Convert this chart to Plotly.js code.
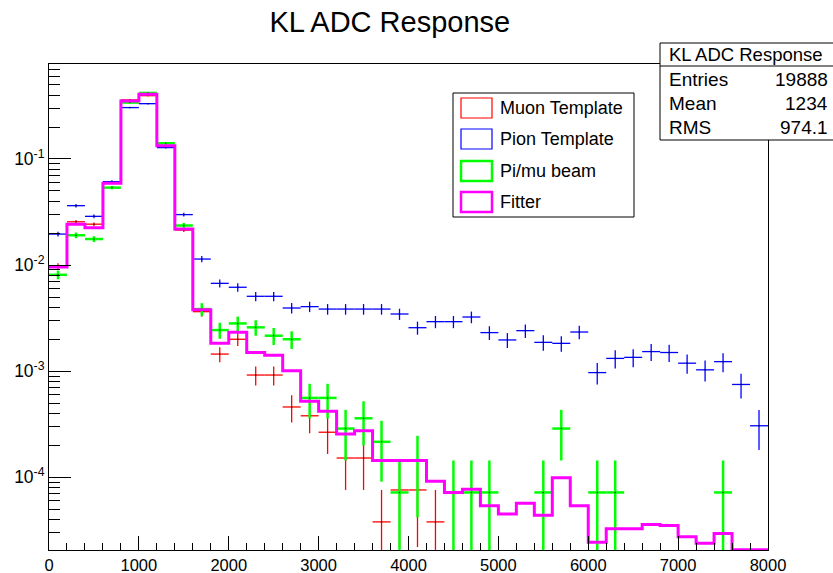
<!DOCTYPE html>
<html><head><meta charset="utf-8">
<script src="https://cdn.plot.ly/plotly-3.0.1.min.js"></script>
<style>html,body{margin:0;padding:0;background:#fff}#chart{width:833px;height:573px}</style>
</head><body><div id="chart"></div>
<script>
// ---- data (normalised ADC spectra, 40 bins of 200 ADC counts) ----
const binCenters = [100,300,500,700,900,1100,1300,1500,1700,1900,2100,2300,2500,2700,2900,3100,3300,3500,3700,3900,
  4100,4300,4500,4700,4900,5100,5300,5500,5700,5900,6100,6300,6500,6700,6900,7100,7300,7500,7700,7900];
const binEdges = [0,200,400,600,800,1000,1200,1400,1600,1800,2000,2200,2400,2600,2800,3000,3200,3400,3600,3800,
  4000,4200,4400,4600,4800,5000,5200,5400,5600,5800,6000,6200,6400,6600,6800,7000,7200,7400,7600,7800,8000];
const halfBin = 100;

const muonY = [0.0098,0.0256,0.0243,0.060,0.36,0.395,0.133,0.0214,0.00364,0.00145,0.0020,0.00092,0.00092,0.00046,0.00038,0.000266,0.000152,0.000152,0.000038,0.000076,
  0.000076,0.000038,null,null,null,null,null,null,null,null,null,null,null,null,null,null,null,null,null,null];
const muonErr = [0.00061,0.000987,0.000961,0.00151,0.0037,0.00388,0.00225,0.000902,0.000372,0.000235,0.000276,0.000187,0.000187,0.000132,0.00012,0.0001,0.000076,0.000076,0.000038,0.000054,
  0.000054,0.000038,null,null,null,null,null,null,null,null,null,null,null,null,null,null,null,null,null,null];

const pionY = [0.0196,0.0363,0.0288,0.0611,0.305,0.332,0.128,0.0299,0.0114,0.00673,0.00618,0.00508,0.00508,0.00394,0.00406,0.00385,0.00385,0.00385,0.00385,0.00346,
  0.00257,0.00293,0.00293,0.00324,0.00231,0.00197,0.00241,0.00187,0.00183,0.00234,0.00097,0.00132,0.00135,0.00153,0.0015,0.00119,0.00103,0.00123,0.00075,0.000306];
const pionErr = [0.0010,0.00136,0.00121,0.00177,0.00394,0.00412,0.00256,0.00124,0.00076,0.000586,0.000562,0.000509,0.000509,0.000449,0.000455,0.000443,0.000443,0.000443,0.000443,0.00042,
  0.000362,0.000387,0.000387,0.000407,0.000343,0.000317,0.000351,0.000309,0.000305,0.000345,0.000222,0.000259,0.000262,0.000279,0.000277,0.000246,0.000229,0.00025,0.000196,0.000125];

const beamY = [0.0081,0.0191,0.0176,0.0537,0.34,0.419,0.1406,0.0236,0.00385,0.00244,0.00282,0.00259,0.00216,0.0020,0.00056,0.00056,0.000288,0.00036,0.000216,0.000072,
  0.000144,null,0.000072,0.000072,0.000072,null,null,0.000072,0.000288,null,0.000072,0.000072,null,null,null,null,null,0.000072,null,null];
const beamErr = [0.000763,0.00117,0.00113,0.00197,0.00495,0.00549,0.00318,0.0013,0.000526,0.000419,0.00045,0.000432,0.000394,0.000379,0.000201,0.000201,0.000144,0.000161,0.000125,0.000072,
  0.000102,null,0.000072,0.000072,0.000072,null,null,0.000072,0.000144,null,0.000072,0.000072,null,null,null,null,null,0.000072,null,null];

const fitY = [0.0096,0.0243,0.0225,0.059,0.352,0.407,0.133,0.0219,0.0038,0.00183,0.00233,0.0015,0.00141,0.00101,0.00052,0.00042,0.000256,0.000275,0.000144,0.000144,
  0.000144,0.000092,0.000072,0.000077,0.000054,0.000045,0.000057,0.000044,0.000099,0.000054,0.0000245,0.0000327,0.0000327,0.000036,0.0000352,0.0000275,0.0000239,0.0000296,0.0000208,0.0000208];

const seriesNames = ['Muon Template','Pion Template','Pi/mu beam','Fitter'];
const seriesColors = ['#ff0000','#0000ff','#00ff00','#ff00ff'];
const seriesWidths = [1.3,1.3,2.5,3];

const xTickVals = [0,1000,2000,3000,4000,5000,6000,7000,8000];
const xTickText = ['0','1000','2000','3000','4000','5000','6000','7000','8000'];
const yTickVals = [1e-4,1e-3,1e-2,1e-1];
const yTickText = ['10<sup>-4</sup>','10<sup>-3</sup>','10<sup>-2</sup>','10<sup>-1</sup>'];
const yDecades = [1e-5,1e-4,1e-3,1e-2,1e-1];
const yMinorMult = [2,3,4,5,6,7,8,9];

const statsTitle = 'KL ADC Response';
const statsLabels = ['Entries','Mean','RMS'];
const statsValues = ['19888','1234','974.1'];
const chartTitle = 'KL ADC Response';

// ---- layout helpers (pixel -> paper) ----
const W = 833, H = 573, M = {l:49, r:65, t:64, b:23, pad:0};
const pw = W - M.l - M.r, ph = H - M.t - M.b;
const px = x => (x - M.l) / pw;
const py = y => (H - M.b - y) / ph;
const FONT = 'Liberation Sans, Arial, Helvetica, sans-serif';

const yMinor = [];
yDecades.forEach(d => yMinorMult.forEach(m => yMinor.push(d * m)));

function errTrace(y, err, i) {
  return {
    type: 'scatter', mode: 'markers', x: binCenters, y: y,
    marker: {size: 1.5, color: '#000', opacity: 0.8},
    error_x: {type: 'constant', value: halfBin, width: 0, thickness: seriesWidths[i], color: seriesColors[i]},
    error_y: {type: 'data', array: err, width: 0, thickness: seriesWidths[i], color: seriesColors[i]},
    showlegend: false, hoverinfo: 'skip', cliponaxis: true
  };
}
const traces = [
  errTrace(muonY, muonErr, 0),
  errTrace(pionY, pionErr, 1),
  errTrace(beamY, beamErr, 2),
  {type: 'scatter', mode: 'lines', x: binEdges, y: fitY.concat([fitY[fitY.length - 1]]),
   line: {shape: 'hv', color: seriesColors[3], width: seriesWidths[3]}, showlegend: false, hoverinfo: 'skip'}
];

const shapes = [], annotations = [];
// legend box
shapes.push({type: 'rect', xref: 'paper', yref: 'paper', x0: px(453), x1: px(634), y0: py(217), y1: py(93),
  line: {color: '#000', width: 1}, fillcolor: '#fff', layer: 'above'});
const legRows = [108, 139, 171, 202];
seriesNames.forEach((n, i) => {
  const yc = legRows[i];
  shapes.push({type: 'rect', xref: 'paper', yref: 'paper', x0: px(461), x1: px(492), y0: py(yc + 10), y1: py(yc - 10),
    line: {color: seriesColors[i], width: i < 2 ? 1.2 : 2.5}, fillcolor: 'rgba(0,0,0,0)', layer: 'above'});
  annotations.push({xref: 'paper', yref: 'paper', x: px(498), y: py(yc), xanchor: 'left', yanchor: 'middle',
    text: n, showarrow: false, font: {family: FONT, size: 18, color: '#000'}});
});
// stats box
shapes.push({type: 'rect', xref: 'paper', yref: 'paper', x0: px(660), x1: px(836), y0: py(140), y1: py(43),
  line: {color: '#000', width: 1}, fillcolor: '#fff', layer: 'above'});
shapes.push({type: 'line', xref: 'paper', yref: 'paper', x0: px(660), x1: px(836), y0: py(66), y1: py(66),
  line: {color: '#000', width: 1}, layer: 'above'});
annotations.push({xref: 'paper', yref: 'paper', x: px(746), y: py(54.5), xanchor: 'center', yanchor: 'middle',
  text: statsTitle, showarrow: false, font: {family: FONT, size: 18.5, color: '#000'}});
const statRows = [80, 103, 127];
statsLabels.forEach((l, i) => {
  annotations.push({xref: 'paper', yref: 'paper', x: px(667), y: py(statRows[i]), xanchor: 'left', yanchor: 'middle',
    text: l, showarrow: false, font: {family: FONT, size: 19, color: '#000'}});
  annotations.push({xref: 'paper', yref: 'paper', x: px(830), y: py(statRows[i]), xanchor: 'right', yanchor: 'middle',
    text: statsValues[i], showarrow: false, font: {family: FONT, size: 19, color: '#000'}});
});

const layout = {
  width: W, height: H, margin: M,
  paper_bgcolor: '#fff', plot_bgcolor: '#fff',
  title: {text: chartTitle, x: 0.468, xref: 'container', xanchor: 'center', y: 1 - 22 / H, yref: 'container', yanchor: 'middle',
    font: {family: FONT, size: 29, color: '#000'}},
  font: {family: FONT, color: '#000'},
  xaxis: {range: [0, 8000], tickmode: 'array', tickvals: xTickVals, ticktext: xTickText,
    ticks: 'inside', ticklen: 14, tickwidth: 1, tickcolor: '#000',
    minor: {ticks: 'inside', ticklen: 7, tickwidth: 1, tickcolor: '#000', tickmode: 'linear', tick0: 0, dtick: 200, showgrid: false},
    showline: true, linecolor: '#000', linewidth: 1, mirror: true, showgrid: false, zeroline: false,
    tickfont: {family: FONT, size: 16.5, color: '#000'}},
  yaxis: {type: 'log', range: [-4.685, -0.105], tickmode: 'array', tickvals: yTickVals, ticktext: yTickText,
    ticks: 'inside', ticklen: 22, tickwidth: 1, tickcolor: '#000',
    minor: {ticks: 'inside', ticklen: 11, tickwidth: 1, tickcolor: '#000', tickmode: 'array', tickvals: yMinor, showgrid: false},
    showline: true, linecolor: '#000', linewidth: 1, mirror: true, showgrid: false, zeroline: false,
    tickfont: {family: FONT, size: 17.5, color: '#000'}},
  shapes: shapes, annotations: annotations, showlegend: false
};
Plotly.newPlot('chart', traces, layout, {displayModeBar: false, staticPlot: true});
</script></body></html>
